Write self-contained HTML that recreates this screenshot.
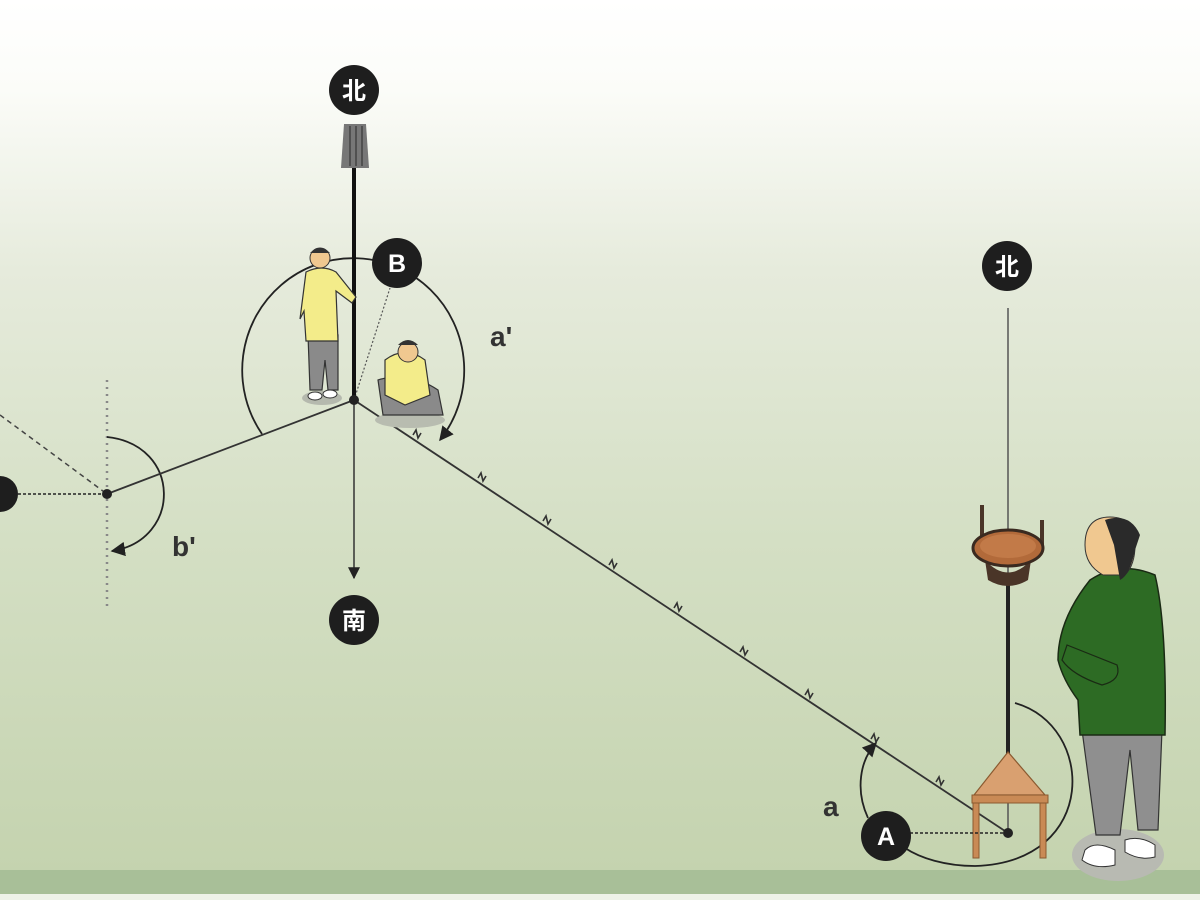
<!DOCTYPE html>
<html><head><meta charset="utf-8"><style>
html,body{margin:0;padding:0;width:1200px;height:900px;overflow:hidden}
svg{display:block}
text{font-family:"Liberation Sans","Noto Sans CJK JP",sans-serif;font-weight:bold}
</style></head><body>
<svg width="1200" height="900" viewBox="0 0 1200 900" xmlns="http://www.w3.org/2000/svg">
<defs>
<linearGradient id="bg" x1="0" y1="0" x2="0" y2="1">
<stop offset="0" stop-color="#ffffff"/>
<stop offset="0.1" stop-color="#fbfcf8"/>
<stop offset="0.3" stop-color="#e6ebdc"/>
<stop offset="0.6" stop-color="#d4dfc4"/>
<stop offset="1" stop-color="#c3d2ad"/>
</linearGradient>
<marker id="ar" viewBox="0 0 10 10" refX="9" refY="5" markerWidth="8" markerHeight="8" orient="auto"><path d="M0,0 L10,5 L0,10 z" fill="#222"/></marker>
</defs>
<rect width="1200" height="900" fill="url(#bg)"/>
<rect y="870" width="1200" height="24" fill="#a8bf98"/>
<rect y="894" width="1200" height="6" fill="#eef2e8"/>

<!-- left section -->
<line x1="107" y1="380" x2="107" y2="606" stroke="#888" stroke-width="2.5" stroke-dasharray="2,5"/>
<line x1="0" y1="415" x2="107" y2="494" stroke="#444" stroke-width="1.5" stroke-dasharray="5,4"/>
<line x1="18" y1="494" x2="107" y2="494" stroke="#222" stroke-width="1.5" stroke-dasharray="3,2"/>
<circle cx="0" cy="494" r="18" fill="#1e1e1e"/>
<path d="M107,437 C182,445 182,540 112,551" fill="none" stroke="#222" stroke-width="1.8" marker-end="url(#ar)"/>
<line x1="107" y1="494" x2="354" y2="400" stroke="#333" stroke-width="1.8"/>
<circle cx="107" cy="494" r="5" fill="#222"/>
<text x="172" y="556" font-size="28" fill="#333">b'</text>

<!-- B section -->
<path d="M262,434 A111,112 0 1 1 440,440" fill="none" stroke="#222" stroke-width="1.8" marker-end="url(#ar)"/>
<line x1="354" y1="400" x2="390" y2="288" stroke="#555" stroke-width="1.2" stroke-dasharray="2,2"/>
<line x1="354" y1="400" x2="1008" y2="833" stroke="#333" stroke-width="1.8"/>
<g stroke="#333" stroke-width="1.6" fill="none">
<path d="M413,435 l3,-5 l2,8 l3,-5"/><path d="M478,478 l3,-5 l2,8 l3,-5"/><path d="M543,521 l3,-5 l2,8 l3,-5"/><path d="M609,565 l3,-5 l2,8 l3,-5"/><path d="M674,608 l3,-5 l2,8 l3,-5"/><path d="M740,652 l3,-5 l2,8 l3,-5"/><path d="M805,695 l3,-5 l2,8 l3,-5"/><path d="M871,739 l3,-5 l2,8 l3,-5"/><path d="M936,782 l3,-5 l2,8 l3,-5"/>
</g>
<line x1="354" y1="400" x2="354" y2="578" stroke="#333" stroke-width="1.5" marker-end="url(#ar)"/>
<line x1="354" y1="165" x2="354" y2="400" stroke="#111" stroke-width="4"/>
<path d="M344,124 h22 l3,44 h-28 z" fill="#777"/>
<path d="M350,126 v40 M356,126 v40 M362,126 v40" stroke="#444" stroke-width="1.5"/>
<circle cx="354" cy="400" r="5" fill="#222"/>
<!-- standing man -->
<ellipse cx="322" cy="398" rx="20" ry="7" fill="#b5b9ae"/>
<path d="M308,335 h30 l0,55 h-10 l-3,-30 l-3,30 h-12 z" fill="#8a8a8a" stroke="#333" stroke-width="1.2"/>
<path d="M306,272 q16,-8 30,0 l20,25 l-4,6 l-16,-12 l2,50 h-32 l-2,-30 l-4,8 z" fill="#f3ec8a" stroke="#333" stroke-width="1.2"/>
<circle cx="320" cy="258" r="10" fill="#f0c890" stroke="#333" stroke-width="1"/>
<path d="M310,253 q10,-10 20,0" fill="#333"/>
<ellipse cx="315" cy="396" rx="7" ry="4" fill="#fff" stroke="#333"/><ellipse cx="330" cy="394" rx="7" ry="4" fill="#fff" stroke="#333"/>
<!-- kneeling man -->
<ellipse cx="410" cy="420" rx="35" ry="8" fill="#b8bcb0"/>
<path d="M378,380 q30,-10 60,10 l5,25 h-60 z" fill="#8a8a8a" stroke="#333" stroke-width="1.2"/>
<path d="M385,360 q20,-15 40,0 l5,35 l-25,10 l-20,-10 z" fill="#f3ec8a" stroke="#333" stroke-width="1.2"/>
<circle cx="408" cy="352" r="10" fill="#f0c890" stroke="#333" stroke-width="1"/>
<path d="M398,345 q10,-10 20,0" fill="#333"/>
<circle cx="354" cy="90" r="25" fill="#1e1e1e"/>
<text x="354" y="99" font-size="24" fill="#fff" text-anchor="middle">北</text>
<circle cx="354" cy="620" r="25" fill="#1e1e1e"/>
<text x="354" y="629" font-size="24" fill="#fff" text-anchor="middle">南</text>
<circle cx="397" cy="263" r="25" fill="#1e1e1e"/>
<text x="397" y="272" font-size="25" fill="#fff" text-anchor="middle">B</text>
<text x="490" y="346" font-size="28" fill="#333">a'</text>

<!-- right section -->
<line x1="1008" y1="308" x2="1008" y2="833" stroke="#555" stroke-width="1.5"/>
<path d="M1015,703 C1095,725 1100,862 975,866 C945,866 920,858 905,848" fill="none" stroke="#222" stroke-width="1.8"/>
<path d="M868,818 C855,790 860,760 876,743" fill="none" stroke="#222" stroke-width="1.8" marker-end="url(#ar)"/>
<line x1="1008" y1="585" x2="1008" y2="780" stroke="#222" stroke-width="4"/>
<path d="M1008,752 L974,795 L1045,795 Z" fill="#d9a070" stroke="#8a5a30" stroke-width="1.2"/>
<rect x="972" y="795" width="76" height="8" fill="#c98a55" stroke="#8a5a30"/>
<rect x="973" y="803" width="6" height="55" fill="#c98a55" stroke="#8a5a30"/>
<rect x="1040" y="803" width="6" height="55" fill="#c98a55" stroke="#8a5a30"/>
<rect x="980" y="505" width="4" height="35" fill="#4a3528"/><rect x="1040" y="520" width="4" height="25" fill="#4a3528"/>
<path d="M985,560 q23,25 46,0 l-3,20 q-20,12 -40,0 z" fill="#4a3528"/>
<ellipse cx="1008" cy="548" rx="35" ry="18" fill="#b26a3a" stroke="#3a2a20" stroke-width="3"/>
<ellipse cx="1008" cy="546" rx="28" ry="12" fill="#c27a48"/>
<line x1="910" y1="833" x2="1008" y2="833" stroke="#222" stroke-width="1.5" stroke-dasharray="3,2"/>
<circle cx="1008" cy="833" r="5" fill="#222"/>
<circle cx="886" cy="836" r="25" fill="#1e1e1e"/>
<text x="886" y="845" font-size="25" fill="#fff" text-anchor="middle">A</text>
<text x="823" y="816" font-size="28" fill="#333">a</text>
<circle cx="1007" cy="266" r="25" fill="#1e1e1e"/>
<text x="1007" y="275" font-size="24" fill="#fff" text-anchor="middle">北</text>
<!-- green man -->
<ellipse cx="1118" cy="855" rx="46" ry="26" fill="#b8bab2"/>
<path d="M1082,730 h80 l-4,100 h-20 l-8,-80 l-10,85 h-24 z" fill="#8f8f8f" stroke="#333" stroke-width="1.2"/>
<path d="M1085,850 q10,-10 30,0 l0,15 q-20,5 -33,-5 z" fill="#fff" stroke="#333"/>
<path d="M1125,840 q15,-5 30,5 l0,12 q-15,4 -30,-5 z" fill="#fff" stroke="#333"/>
<path d="M1090,580 q30,-20 65,-5 q12,50 10,160 h-85 l-2,-35 q-15,-20 -20,-40 q0,-40 32,-80 z" fill="#2d6b24" stroke="#1a2a14" stroke-width="1.5"/>
<path d="M1062,660 q10,15 40,25 q20,-5 15,-20 q-25,-10 -50,-20 z" fill="#2d6b24" stroke="#1a2a14" stroke-width="1.2"/>
<path d="M1085,545 q0,-28 25,-28 q25,0 25,28 q0,20 -10,30 h-22 q-18,-10 -18,-30 z" fill="#f0c890" stroke="#333" stroke-width="1"/>
<path d="M1105,520 q25,-8 35,15 l-5,15 q-5,25 -15,30 l-6,-35 z" fill="#2a2a2a"/>
</svg>
</body></html>
